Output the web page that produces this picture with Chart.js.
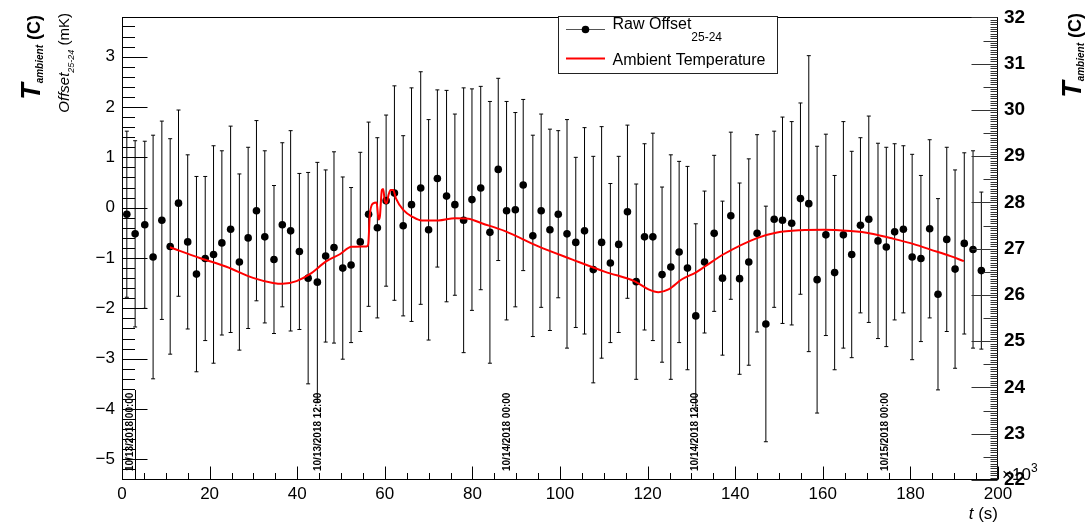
<!DOCTYPE html>
<html>
<head>
<meta charset="utf-8">
<script src="https://cdn.jsdelivr.net/npm/chart.js@4.4.1/dist/chart.umd.min.js"></script>
<style>
  html, body { margin: 0; padding: 0; background: #fff; }
  #wrap { width: 1090px; height: 526px; }
</style>
</head>
<body>
<div id="wrap"><canvas id="chart-offset" width="1090" height="526"></canvas></div>
<script>
// raw offset points (t in 10^3 s, offset in mK)
const timeKs = [
  1.1, 3.0, 5.2, 7.1, 9.1, 11.0, 12.9, 15.0, 17.0, 19.0,
  20.9, 22.8, 24.8, 26.8, 28.8, 30.7, 32.6, 34.7, 36.6, 38.5,
  40.5, 42.5, 44.6, 46.5, 48.4, 50.4, 52.3, 54.4, 56.3, 58.3,
  60.3, 62.2, 64.2, 66.1, 68.2, 70.0, 72.0, 74.1, 76.0, 78.0,
  79.9, 81.9, 84.0, 85.9, 87.8, 89.8, 91.6, 93.8, 95.7, 97.7,
  99.6, 101.6, 103.6, 105.6, 107.6, 109.5, 111.5, 113.4, 115.4, 117.4,
  119.3, 121.2, 123.3, 125.3, 127.2, 129.1, 131.0, 133.0, 135.2, 137.1,
  139.0, 141.0, 143.1, 145.0, 147.0, 148.9, 150.8, 152.9, 154.9, 156.8,
  158.7, 160.7, 162.7, 164.7, 166.6, 168.6, 170.5, 172.6, 174.5, 176.4,
  178.4, 180.4, 182.4, 184.4, 186.3, 188.3, 190.2, 192.3, 194.3, 196.2
];
const offsetMk = [
  -0.13, -0.52, -0.34, -0.98, -0.25, -0.77, 0.09, -0.68, -1.32, -1.01,
  -0.93, -0.70, -0.43, -1.08, -0.60, -0.06, -0.58, -1.03, -0.34, -0.46,
  -0.87, -1.40, -1.48, -0.96, -0.79, -1.20, -1.14, -0.68, -0.13, -0.40,
  0.14, 0.29, -0.36, 0.06, 0.39, -0.44, 0.58, 0.23, 0.06, -0.25,
  0.16, 0.39, -0.49, 0.76, -0.06, -0.04, 0.45, -0.56, -0.06, -0.44,
  -0.13, -0.52, -0.69, -0.46, -1.23, -0.69, -1.10, -0.73, -0.08, -1.47,
  -0.58, -0.58, -1.33, -1.18, -0.88, -1.20, -2.15, -1.08, -0.51, -1.40,
  -0.16, -1.41, -1.08, -0.51, -2.31, -0.23, -0.25, -0.31, 0.18, 0.08,
  -1.43, -0.54, -1.29, -0.54, -0.93, -0.35, -0.23, -0.66, -0.78, -0.48,
  -0.43, -0.98, -1.01, -0.42, -1.72, -0.63, -1.22, -0.71, -0.83, -1.25
];
const offsetErr = [
  1.65, 1.85, 1.66, 2.42, 1.97, 2.14, 1.85, 1.73, 1.94, 1.63,
  2.16, 1.83, 2.05, 1.75, 1.80, 1.79, 1.71, 1.47, 1.63, 1.99,
  1.55, 2.10, 2.38, 1.71, 1.90, 1.81, 1.54, 1.78, 1.83, 1.79,
  1.70, 2.13, 1.79, 2.32, 2.31, 2.19, 1.76, 2.10, 1.80, 2.63,
  2.20, 2.02, 2.60, 1.81, 2.17, 1.93, 1.70, 2.00, 1.92, 2.00,
  1.66, 2.27, 1.69, 2.05, 2.25, 2.30, 1.58, 1.75, 1.72, 1.94,
  1.85, 2.06, 1.74, 2.23, 1.80, 2.02, 1.83, 1.41, 1.55, 1.53,
  1.66, 1.90, 2.05, 1.96, 2.34, 1.75, 2.05, 2.02, 1.90, 2.94,
  2.65, 2.00, 1.93, 2.25, 2.05, 1.74, 2.05, 1.94, 1.98, 1.75,
  1.66, 2.04, 1.65, 1.77, 1.90, 1.83, 1.97, 1.80, 1.96, 1.56
];

// ambient temperature (t in 10^3 s, T in C)
const tempTimeKs = [
  10.95, 17.74, 23.84, 29.92, 34.49, 36.64, 39.84, 42.88, 46.70, 49.74,
  52.41, 55.84, 56.21, 56.59, 57.35, 58.13, 58.58, 58.88, 59.34, 59.63,
  60.02, 60.41, 60.87, 61.33, 61.92, 62.54, 64.21, 66.49, 68.41, 72.21,
  76.02, 79.06, 82.13, 87.45, 95.06, 102.70, 110.31, 117.17, 120.21, 122.49,
  124.78, 127.84, 130.88, 133.17, 137.35, 144.98, 149.55, 154.88, 160.21, 166.31,
  170.88, 175.45, 180.02, 184.59, 189.17, 192.21
];
const tempC = [
  27.03, 26.80, 26.61, 26.37, 26.26, 26.24, 26.30, 26.45, 26.73, 26.88,
  27.04, 27.05, 27.09, 27.74, 27.98, 28.00, 27.63, 27.70, 28.27, 28.29,
  28.02, 27.98, 28.17, 28.27, 28.27, 28.09, 27.84, 27.68, 27.61, 27.61,
  27.66, 27.65, 27.55, 27.38, 27.05, 26.77, 26.50, 26.29, 26.12, 26.06,
  26.12, 26.34, 26.48, 26.62, 26.88, 27.23, 27.35, 27.40, 27.41, 27.38,
  27.33, 27.23, 27.12, 26.98, 26.84, 26.73
];

// time-axis date labels
const dateLabels = ['10/13/2018 00:00', '10/13/2018 12:00', '10/14/2018 00:00', '10/14/2018 12:00', '10/15/2018 00:00'];
const dateLabelTimes = [1.5, 44.6, 87.7, 130.7, 174.0];

const FONT = '"Liberation Sans", Arial, Helvetica, sans-serif';

function minusLabel(v) {
    return v < 0 ? '\u2212' + Math.abs(v) : String(v);
}

// draw a run of [text, font, dy] pieces rotated -90deg, ending at yEnd
function drawVerticalRuns(ctx, xBase, yEnd, runs) {
    let total = 0;
    runs.forEach(r => { ctx.font = r[1]; total += ctx.measureText(r[0]).width; });
    ctx.save();
    ctx.translate(xBase, yEnd + total);
    ctx.rotate(-Math.PI / 2);
    ctx.textAlign = 'left';
    ctx.textBaseline = 'alphabetic';
    let pos = 0;
    runs.forEach(r => {
        ctx.font = r[1];
        ctx.fillText(r[0], pos, r[2] || 0);
        pos += ctx.measureText(r[0]).width;
    });
    ctx.restore();
}

const rootStyle = {
    id: 'rootStyle',
    beforeDatasetsDraw(chart) {
        const { ctx, chartArea: a, scales: { x, y } } = chart;
        ctx.save();
        ctx.beginPath();
        ctx.rect(a.left, a.top, a.right - a.left, a.bottom - a.top);
        ctx.clip();
        ctx.strokeStyle = '#000';
        ctx.lineWidth = 1;
        timeKs.forEach((t, i) => {
            const px = x.getPixelForValue(t);
            const top = y.getPixelForValue(offsetMk[i] + offsetErr[i]);
            const bot = y.getPixelForValue(offsetMk[i] - offsetErr[i]);
            ctx.beginPath();
            ctx.moveTo(px, top); ctx.lineTo(px, bot);
            ctx.moveTo(px - 2, top); ctx.lineTo(px + 2, top);
            ctx.moveTo(px - 2, bot); ctx.lineTo(px + 2, bot);
            ctx.stroke();
        });
        ctx.restore();
    },
    afterDraw(chart) {
        const { ctx, chartArea: a, scales: { x, y, y2 } } = chart;
        const L = Math.round(a.left) + 0.5, R = Math.round(a.right) - 0.5;
        const T = Math.round(a.top) + 0.5, B = Math.round(a.bottom) - 0.5;
        ctx.save();
        ctx.strokeStyle = '#000';
        ctx.lineWidth = 1;

        // frame
        ctx.strokeRect(L, T, R - L, B - T);

        // ticks, drawn inward like ROOT
        ctx.beginPath();
        for (let v = 0; v <= 200.001; v += 5) {
            const px = Math.round(x.getPixelForValue(v)) + 0.5;
            const len = (Math.round(v) % 20 === 0) ? 13 : 6.5;
            ctx.moveTo(px, B); ctx.lineTo(px, B - len);
        }
        for (let v = -5.4; v <= 3.8; v += 0.2) {
            const vv = Math.round(v * 10) / 10;
            const py = Math.round(y.getPixelForValue(vv)) + 0.5;
            if (py < a.top || py > a.bottom) continue;
            const len = Number.isInteger(vv) ? 25 : 12.5;
            ctx.moveTo(L, py); ctx.lineTo(L + len, py);
        }
        ctx.stroke();
        // right axis: integer ticks plus dense fine ticks
        ctx.beginPath();
        for (let k = 0; k <= 200; k++) {
            const vv = 22 + k * 0.05;
            const py = Math.round(y2.getPixelForValue(vv)) + 0.5;
            let len = 7;
            if (k % 20 === 0) len = 26;
            else if (k % 10 === 0) len = 14;
            ctx.moveTo(R, py); ctx.lineTo(R - len, py);
        }
        ctx.strokeStyle = '#333';
        ctx.stroke();
        ctx.strokeStyle = '#000';

        // date labels of the time axis
        ctx.fillStyle = '#000';
        ctx.font = 'bold 10px ' + FONT;
        dateLabels.forEach((s, i) => {
            const px = x.getPixelForValue(dateLabelTimes[i]);
            ctx.save();
            ctx.translate(px + 4, a.bottom - 9);
            ctx.rotate(-Math.PI / 2);
            ctx.textAlign = 'left';
            ctx.textBaseline = 'alphabetic';
            ctx.fillText(s, 0, 0);
            ctx.restore();
        });
        const tick0 = Math.round(x.getPixelForValue(dateLabelTimes[0])) + 6.5;
        ctx.beginPath();
        ctx.moveTo(tick0, a.bottom - 90); ctx.lineTo(tick0, a.bottom);
        ctx.stroke();

        // x10^3 and x title
        ctx.font = '17px ' + FONT;
        ctx.textAlign = 'left';
        ctx.textBaseline = 'alphabetic';
        ctx.fillText('\u00d710', a.right + 4, a.bottom);
        ctx.font = '12px ' + FONT;
        ctx.fillText('3', a.right + 33, a.bottom - 8);
        ctx.textAlign = 'right';
        ctx.font = '17px ' + FONT;
        ctx.fillText(' (s)', a.right, 519);
        const wS = ctx.measureText(' (s)').width;
        ctx.font = 'italic 17px ' + FONT;
        ctx.fillText('t', a.right - wS, 519);

        // axis titles
        const bigT = 'bold italic 27px ' + FONT;
        const sub = 'bold italic 10px ' + FONT;
        const paren = 'bold 18px ' + FONT;
        drawVerticalRuns(ctx, 40, 15, [['T', bigT], ['ambient', sub, 3], [' (C)', paren]]);
        drawVerticalRuns(ctx, 69, 13, [['Offset', 'italic 15px ' + FONT], ['25-24', 'italic 9px ' + FONT, 5], [' (mK)', '15px ' + FONT]]);
        drawVerticalRuns(ctx, 1081, 13, [['T', bigT], ['ambient', sub, 3], [' (C)', paren]]);

        // legend
        const lx = 558.5, ly = 16.5, lw = 219, lh = 57;
        ctx.fillStyle = '#fff';
        ctx.fillRect(lx, ly, lw, lh);
        ctx.strokeStyle = '#222';
        ctx.strokeRect(lx, ly, lw, lh);
        ctx.strokeStyle = '#555';
        ctx.lineWidth = 1;
        ctx.beginPath();
        ctx.moveTo(566, 29.5); ctx.lineTo(605, 29.5);
        ctx.stroke();
        ctx.fillStyle = '#000';
        ctx.beginPath();
        ctx.arc(585.5, 29.5, 3.8, 0, Math.PI * 2);
        ctx.fill();
        ctx.strokeStyle = '#ff0000';
        ctx.lineWidth = 2;
        ctx.beginPath();
        ctx.moveTo(566, 58.5); ctx.lineTo(605, 58.5);
        ctx.stroke();
        ctx.textAlign = 'left';
        ctx.font = '16px ' + FONT;
        ctx.fillText('Raw Offset', 612.5, 29);
        const wRaw = ctx.measureText('Raw Offset').width;
        ctx.font = '12px ' + FONT;
        ctx.fillText('25-24', 612.5 + wRaw, 40.5);
        ctx.font = '16px ' + FONT;
        ctx.fillText('Ambient Temperature', 612.5, 64.5);

        ctx.restore();
    }
};

const ctxEl = document.getElementById('chart-offset');

new Chart(ctxEl, {
    type: 'scatter',
    data: {
        datasets: [
            {
                label: 'Ambient Temperature',
                data: tempTimeKs.map((t, i) => ({ x: t, y: tempC[i] })),
                yAxisID: 'y2',
                showLine: true,
                borderColor: '#ff0000',
                borderWidth: 2,
                pointRadius: 0,
                cubicInterpolationMode: 'monotone',
                order: 1
            },
            {
                label: 'Raw Offset',
                data: timeKs.map((t, i) => ({ x: t, y: offsetMk[i] })),
                yAxisID: 'y',
                backgroundColor: '#000',
                borderWidth: 0,
                pointRadius: 3.8,
                order: 2
            }
        ]
    },
    options: {
        responsive: false,
        animation: false,
        devicePixelRatio: 1,
        layout: { padding: { top: 15, left: 0, right: 0, bottom: 0 } },
        plugins: {
            legend: { display: false },
            tooltip: { enabled: false }
        },
        scales: {
            x: {
                type: 'linear',
                position: 'bottom',
                min: 0,
                max: 200,
                grid: { display: false, drawTicks: false },
                border: { display: false },
                ticks: {
                    stepSize: 20,
                    autoSkip: false,
                    maxRotation: 0,
                    color: '#000',
                    padding: 4,
                    font: { family: FONT, size: 17 }
                },
                afterFit(s) { s.height = 46; }
            },
            y: {
                type: 'linear',
                position: 'left',
                min: -5.41,
                max: 3.78,
                grid: { display: false, drawTicks: false },
                border: { display: false },
                ticks: {
                    stepSize: 1,
                    includeBounds: false,
                    autoSkip: false,
                    color: '#000',
                    padding: 7,
                    font: { family: FONT, size: 17 },
                    callback: v => minusLabel(v)
                },
                afterFit(s) { s.width = 122; }
            },
            y2: {
                type: 'linear',
                position: 'right',
                min: 22,
                max: 32,
                grid: { display: false, drawTicks: false },
                border: { display: false },
                ticks: {
                    stepSize: 1,
                    autoSkip: false,
                    color: '#000',
                    padding: 6,
                    font: { family: FONT, size: 19, weight: 'bold' }
                },
                afterFit(s) { s.width = 92; }
            }
        }
    },
    plugins: [rootStyle]
});
</script>
</body>
</html>
